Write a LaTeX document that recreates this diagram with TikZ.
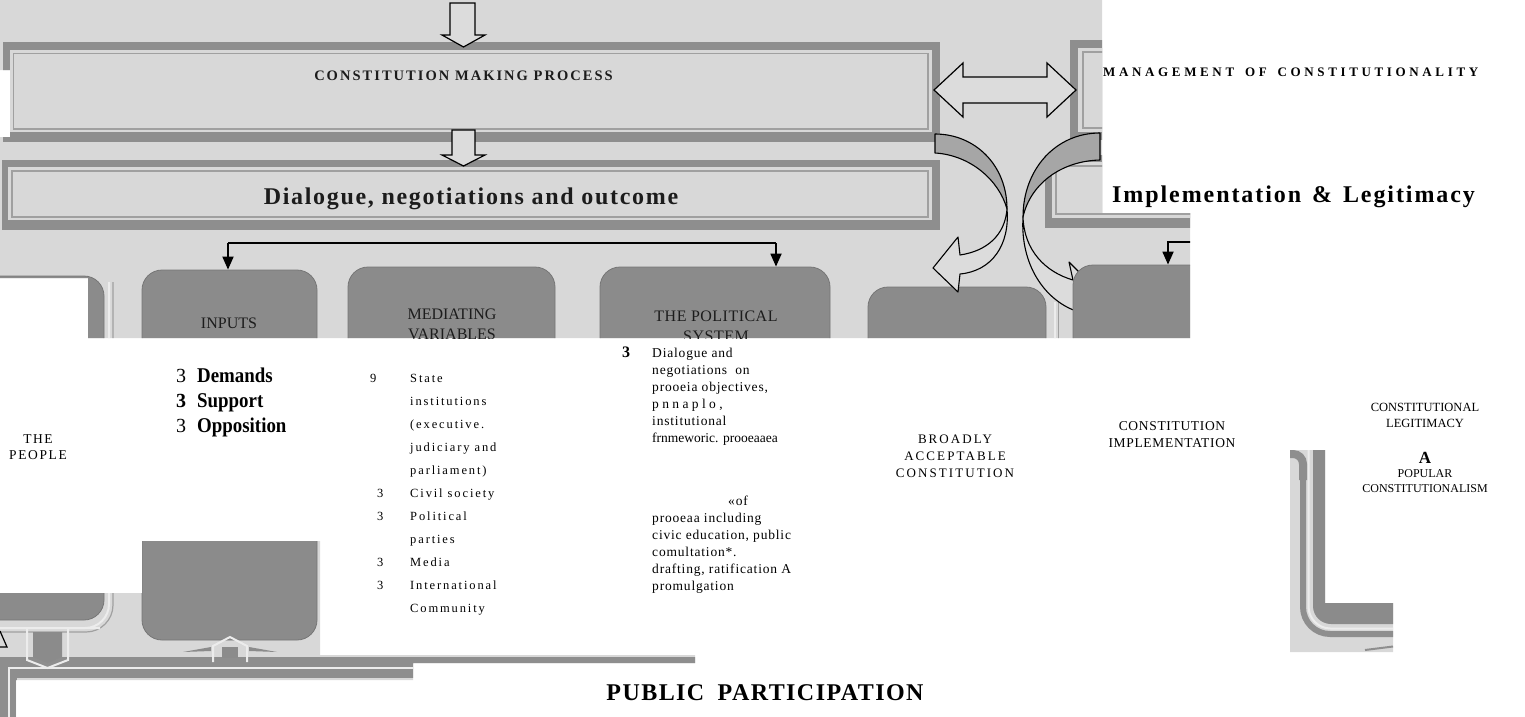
\documentclass[tikz,border=0pt]{standalone}
\usepackage{fontspec}
\setmainfont{Liberation Serif}
\usetikzlibrary{arrows.meta}
\definecolor{scanbg}{HTML}{D8D8D8}
\definecolor{framedark}{HTML}{8E8E8E}
\definecolor{frameline}{HTML}{A0A0A0}
\definecolor{boxfill}{HTML}{8B8B8B}
\definecolor{boxedge}{HTML}{767676}
\definecolor{arrowshade}{HTML}{A6A6A6}
\definecolor{arrowlight}{HTML}{DCDCDC}
\definecolor{lightline}{HTML}{ECECEC}
\definecolor{scantext}{HTML}{1C1C1C}
\newcommand{\fs}[1]{\fontsize{#1}{#1}\selectfont}
\begin{document}
\begin{tikzpicture}[x=1pt,y=-1pt,
  rbox/.style={fill=boxfill, draw=boxedge, line width=0.8pt, rounded corners=20pt, inner sep=0pt},
  hollow/.style={fill=arrowlight, draw=black, line width=1.2pt, line join=miter},
  ribbon/.style={draw=black, line width=1.1pt, line join=round},
  conn/.style={draw=black, line width=1.8pt},
  tipped/.style={-{Triangle[length=13pt,width=11pt]}},
  scanlbl/.style={text=scantext, inner sep=0pt, anchor=base},
  lbl/.style={text=black, inner sep=0pt, anchor=base},
  lblw/.style={text=black, inner sep=0pt, anchor=base west}]
\useasboundingbox (0,0) rectangle (1525,717);
\fill[white] (0,0) rectangle (1525,717);

% ---------------- scanned regions ----------------
\begin{scope}
\clip (10,0) rectangle (1102,278) (0,0) rectangle (10,70) (0,137) rectangle (10,278)
      (88,278) rectangle (1190,338) (1102,213) rectangle (1190,278)
      (142,541) rectangle (320,657) (0,593) rectangle (142,657)
      (0,657) rectangle (413,680) (0,680) rectangle (16,717)
      (320,655) rectangle (695,663)
      (1290,450) rectangle (1325,603) (1290,603) rectangle (1393,652);
\fill[scanbg] (0,0) rectangle (1525,717);

% framed bands
\fill[framedark] (3,42) rectangle (940,142);
\fill[scanbg] (10,50) rectangle (932,132);
\draw[frameline, line width=1.5pt] (13.5,53.5) rectangle (928,129);
\fill[framedark] (2,160) rectangle (940,230);
\fill[scanbg] (8,167) rectangle (932,220);
\draw[frameline, line width=1.5pt] (12,171) rectangle (928,217);
\fill[framedark] (1070,40) rectangle (1200,140);
\fill[scanbg] (1078,48) rectangle (1200,132);
\draw[frameline, line width=1.5pt] (1083,52) rectangle (1200,128);
\fill[framedark] (1045,155) rectangle (1200,228);
\fill[scanbg] (1052,162) rectangle (1200,218);
\draw[frameline, line width=1.5pt] (1056,166) rectangle (1200,214);

% bottom frame band
\fill[framedark] (0,657) rectangle (700,678);
\fill[framedark] (0,657) rectangle (17,717);
\draw[lightline, line width=1.6pt] (9,720) -- (9,668) -- (700,668);

% hollow straight arrows
\filldraw[hollow] (450,3) -- (475,3) -- (475,35) -- (485,35) -- (463.5,47) -- (442,35) -- (450,35) -- cycle;
\filldraw[hollow] (452,130) -- (475,130) -- (475,155) -- (485,155) -- (463.5,166) -- (442,155) -- (452,155) -- cycle;
\filldraw[hollow] (934,90) -- (963,63) -- (963,77) -- (1047,77) -- (1047,63) -- (1076,90)
   -- (1047,117) -- (1047,103) -- (963,103) -- (963,117) -- cycle;

% left partial box with its ring (only its right and lower sides show)
\draw[frameline, line width=1.2pt, rounded corners=27pt] (113,282) |- (-40,632);
\draw[lightline, line width=2pt, rounded corners=24pt] (109,282) |- (-40,628);
\node[rbox, minimum width=165pt, minimum height=344pt] (leftbox) at (21.5,448) {};

% rounded boxes
\node[rbox, minimum width=175pt, minimum height=370pt] (inputs) at (229.5,455) {};
\node[rbox, minimum width=207pt, minimum height=373pt] (mediating) at (451.5,453.5) {};
\node[rbox, minimum width=230pt, minimum height=373pt] (political) at (715,453.5) {};
\node[rbox, minimum width=178pt, minimum height=353pt] (broadly) at (957,463.5) {};
\draw[lightline, line width=1.5pt] (1055,302) -- (1055,345);
\draw[frameline, line width=1pt] (1058.5,302) -- (1058.5,345);

% connectors
\coordinate (c1) at (228,243);
\coordinate (c2) at (776,243);
\draw[conn] (c1) -- (c2);
\draw[conn, tipped] (c1) -- (c1 |- inputs.north);
\draw[conn, tipped] (c2) -- (c2 |- political.north);

% curved ribbon arrow, left
\filldraw[ribbon, fill=arrowshade] (935,134) .. controls (975,134) and (1007,165) .. (1007,209)
   .. controls (999,180) and (970,155) .. (935,153) -- cycle;
\filldraw[ribbon, fill=arrowlight] (1007,209) .. controls (1005,235) and (987,251) .. (960,255)
   -- (958,237) -- (933,268) -- (958,292) -- (960,274)
   .. controls (992,271) and (1010,245) .. (1007,209) -- cycle;

% curved ribbon arrow, right
\filldraw[ribbon, fill=arrowshade] (1100,133) .. controls (1055,133) and (1023,170) .. (1023,217)
   .. controls (1030,185) and (1060,161) .. (1100,160) -- cycle;
\filldraw[ribbon, fill=arrowlight] (1023,217) .. controls (1024,250) and (1045,272) .. (1073,280)
   -- (1069,262) -- (1100,293) -- (1075,326) -- (1076,311)
   .. controls (1045,300) and (1020,265) .. (1023,217) -- cycle;

\node[rbox, minimum width=187pt, minimum height=375pt] (box5) at (1166.5,452.5) {};
\coordinate (c3) at (1195,242);
\draw[conn, tipped] (c3) -- (1168,242) -- (1168,242 |- box5.north);

% pieces below the boxes
\fill[boxfill] (33,632) -- (62,632) -- (62,657) -- (47.5,663) -- (33,657) -- cycle;
\draw[lightline, line width=2pt] (0,628) -- (27,628) -- (27,660) -- (47.5,668) -- (68,660) -- (68,628) -- (100,628);
\draw[black, line width=1.2pt] (0,631) -- (7,647) -- (0,647);
\draw[lightline, line width=2pt] (213,662) -- (213,646) -- (230,637) -- (247,646) -- (247,662);
\fill[boxfill] (222,647) rectangle (238,658);
\fill[boxfill] (183,652) -- (211,647) -- (211,651) -- cycle;
\fill[boxfill] (277,652) -- (249,647) -- (249,651) -- cycle;

% right lower fragment
\fill[boxfill, rounded corners=18pt] (1313,380) rectangle (1460,624);
\draw[lightline, line width=2pt, rounded corners=22pt] (1308.5,380) |- (1460,628.5);
\draw[framedark, line width=6pt, rounded corners=27pt] (1303,470) |- (1460,634);
\draw[framedark, line width=8pt, rounded corners=10pt] (1285,454) -| (1303,480);
\draw[framedark, line width=2pt] (1365,650) -- (1393,646.5);

% texts printed on the scan
\node[scanlbl, font=\fs{14.5}\bfseries\addfontfeatures{LetterSpace=14}] (tcmp) at (463.5,80) {CONSTITUTION MAKING PROCESS};
\node[scanlbl, font=\fs{24}\bfseries\addfontfeatures{LetterSpace=7}] (tdno) at (471,204) {Dialogue, negotiations and outcome};
\node[scanlbl, font=\fs{16}] (tinp) at (229,328) {INPUTS};
\node[scanlbl, font=\fs{16}] (tmed1) at (452,319) {MEDIATING};
\node[scanlbl, font=\fs{16}] (tmed2) at (452,339) {VARIABLES};
\node[scanlbl, font=\fs{16}\addfontfeatures{LetterSpace=3}] (tpol1) at (716,321) {THE POLITICAL};
\node[scanlbl, font=\fs{16}\addfontfeatures{LetterSpace=3}] (tpol2) at (716,341) {SYSTEM};
\end{scope}

% ---------------- texts on the white ----------------
\node[lblw, font=\fs{13}\bfseries\addfontfeatures{LetterSpace=28}] (tmgmt) at (1103,77)
  {MANAGEMENT\hspace{4pt} OF\hspace{4pt} CONSTITUTIONALITY};
\node[lblw, font=\fs{24}\bfseries\addfontfeatures{LetterSpace=8}] (timpl) at (1112,202)
  {Implementation\hspace{3pt} \&\hspace{3pt} Legitimacy};

\node[lblw, font=\fs{20}] (n1) at (176,382) {3};
\node[lblw, font=\fs{20}\bfseries] (n2) at (176,407) {3};
\node[lblw, font=\fs{20}] (n3) at (176,432) {3};
\node[lblw, font=\fs{21}\bfseries\addfontfeatures{FakeStretch=0.9}] (d1) at (197,382) {Demands};
\node[lblw, font=\fs{21}\bfseries\addfontfeatures{FakeStretch=0.9}] (d2) at (197,407) {Support};
\node[lblw, font=\fs{21}\bfseries\addfontfeatures{FakeStretch=0.9}] (d3) at (197,432) {Opposition};

\node[lbl, font=\fs{13.5}\addfontfeatures{LetterSpace=12}] (pe1) at (38,443) {THE};
\node[lbl, font=\fs{13.5}\addfontfeatures{LetterSpace=12}] (pe2) at (38,459) {PEOPLE};

\begin{scope}[every node/.style={lblw, font=\fs{12.5}\addfontfeatures{LetterSpace=15}}]
\node (mn1) at (370,382) {9};
\node (ml1) at (410,382) {State};
\node (ml2) at (410,405) {institutions};
\node (ml3) at (410,428) {(executive.};
\node (ml4) at (410,451) {judiciary and};
\node (ml5) at (410,474) {parliament)};
\node (mn6) at (377,497) {3};
\node (ml6) at (410,497) {Civil society};
\node (mn7) at (377,520) {3};
\node (ml7) at (410,520) {Political};
\node (ml8) at (410,543) {parties};
\node (mn9) at (377,566) {3};
\node (ml9) at (410,566) {Media};
\node (mn10) at (377,589) {3};
\node (ml10) at (410,589) {International};
\node (ml11) at (410,612) {Community};
\end{scope}

\node[lblw, font=\fs{16}\bfseries] (pn) at (622,357) {3};
\begin{scope}[every node/.style={lblw, font=\fs{13.5}\addfontfeatures{LetterSpace=6}}]
\node (p1) at (652,357) {Dialogue and};
\node (p2) at (652,374) {negotiations\hspace{4pt} on};
\node (p3) at (652,391) {prooeia objectives,};
\node[font=\fs{13.5}\addfontfeatures{LetterSpace=25}] (p4) at (652,408) {pnnaplo,};
\node (p5) at (652,425) {institutional};
\node[font=\fs{13.5}] (p6) at (652,442) {frnmeworic. prooeaaea};
\node (p7) at (728,505) {«of};
\node (p8) at (652,522) {prooeaa including};
\node (p9) at (652,539) {civic education, public};
\node (p10) at (652,556) {comultation*.};
\node (p11) at (652,573) {drafting, ratification A};
\node (p12) at (652,590) {promulgation};
\end{scope}

\begin{scope}[every node/.style={lbl, font=\fs{13}\addfontfeatures{LetterSpace=16}}]
\node (b1) at (955,443) {BROADLY};
\node (b2) at (955,460) {ACCEPTABLE};
\node (b3) at (955,477) {CONSTITUTION};
\end{scope}
\begin{scope}[every node/.style={lbl, font=\fs{13.5}\addfontfeatures{LetterSpace=5}}]
\node (ci1) at (1172,430) {CONSTITUTION};
\node (ci2) at (1172,447) {IMPLEMENTATION};
\end{scope}
\node[lbl, font=\fs{12.5}] (cl1) at (1425,411) {CONSTITUTIONAL};
\node[lbl, font=\fs{12.5}] (cl2) at (1425,427) {LEGITIMACY};
\node[lbl, font=\fs{17}\bfseries] (cla) at (1425,463) {A};
\node[lbl, font=\fs{12}] (cl3) at (1425,477) {POPULAR};
\node[lbl, font=\fs{12}] (cl4) at (1425,492) {CONSTITUTIONALISM};

\node[lbl, font=\fs{24}\bfseries\addfontfeatures{LetterSpace=6}] (tpub) at (765,700)
  {PUBLIC\hspace{6pt} PARTICIPATION};
\end{tikzpicture}
\end{document}
